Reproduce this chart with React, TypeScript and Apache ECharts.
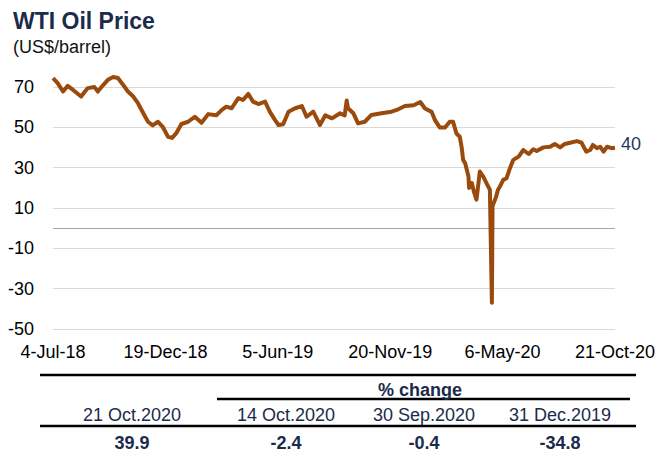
import React, { useEffect, useRef } from "react";
import * as echarts from "echarts";

// ---- Data ----
const dates: string[] = [
  "2018-07-04", "2018-07-11", "2018-07-19", "2018-07-26", "2018-08-03", "2018-08-15",
  "2018-08-25", "2018-09-04", "2018-09-09", "2018-09-17", "2018-09-24", "2018-10-02",
  "2018-10-09", "2018-10-17", "2018-10-24", "2018-11-01", "2018-11-08", "2018-11-16",
  "2018-11-23", "2018-11-30", "2018-12-08", "2018-12-15", "2018-12-23", "2018-12-29",
  "2019-01-04", "2019-01-12", "2019-01-22", "2019-02-01", "2019-02-11", "2019-02-21",
  "2019-03-05", "2019-03-13", "2019-03-20", "2019-03-28", "2019-04-07", "2019-04-14",
  "2019-04-22", "2019-04-29", "2019-05-07", "2019-05-17", "2019-05-24", "2019-06-01",
  "2019-06-06", "2019-06-13", "2019-06-21", "2019-07-01", "2019-07-11", "2019-07-18",
  "2019-07-28", "2019-08-07", "2019-08-15", "2019-08-25", "2019-09-06", "2019-09-13",
  "2019-09-16", "2019-09-18", "2019-09-26", "2019-10-03", "2019-10-13", "2019-10-23",
  "2019-11-07", "2019-11-22", "2019-12-02", "2019-12-12", "2019-12-25", "2020-01-04",
  "2020-01-11", "2020-01-21", "2020-01-26", "2020-02-02", "2020-02-10", "2020-02-17",
  "2020-02-22", "2020-02-27", "2020-03-03", "2020-03-06", "2020-03-08", "2020-03-11",
  "2020-03-16", "2020-03-17", "2020-03-21", "2020-03-24", "2020-03-28", "2020-04-02",
  "2020-04-07", "2020-04-13", "2020-04-17", "2020-04-20", "2020-04-21", "2020-04-26",
  "2020-04-29", "2020-05-02", "2020-05-07", "2020-05-12", "2020-05-17", "2020-05-22",
  "2020-05-30", "2020-06-06", "2020-06-14", "2020-06-21", "2020-06-26", "2020-07-06",
  "2020-07-16", "2020-07-23", "2020-07-31", "2020-08-07", "2020-08-15", "2020-08-25",
  "2020-09-01", "2020-09-08", "2020-09-14", "2020-09-18", "2020-09-24", "2020-09-29",
  "2020-10-04", "2020-10-09", "2020-10-16", "2020-10-21",
];

const prices: number[] = [
  74.5, 72.0, 67.8, 70.6, 68.6, 65.3,
  69.5, 70.0, 67.8, 71.0, 73.6, 75.0,
  74.5, 71.0, 67.8, 65.3, 62.0, 57.0,
  52.8, 51.0, 52.8, 50.3, 45.3, 44.8,
  47.0, 51.7, 52.8, 55.3, 52.3, 56.6,
  56.0, 58.6, 60.3, 59.5, 64.5, 63.6,
  66.6, 62.8, 61.6, 62.8, 57.8, 53.6,
  51.2, 51.6, 57.8, 59.5, 60.6, 55.3,
  57.8, 51.2, 56.0, 54.5, 57.0, 56.0,
  63.3, 59.5, 57.0, 52.0, 52.8, 56.2,
  57.0, 57.8, 59.0, 60.6, 61.0, 62.6,
  59.4, 57.7, 53.6, 50.0, 50.0, 52.8,
  52.8, 47.0, 45.4, 39.7, 33.9, 32.3,
  25.7, 20.0, 22.4, 18.3, 14.2, 28.1,
  25.7, 21.6, 19.1, -37.0, 11.0, 15.3,
  19.0, 20.7, 24.0, 24.8, 29.8, 33.9,
  35.5, 38.8, 36.8, 39.2, 38.3, 40.1,
  40.4, 41.8, 40.1, 41.8, 42.4, 43.2,
  42.4, 38.0, 38.8, 41.3, 39.7, 40.4,
  38.0, 40.4, 39.7, 39.9,
];

const xTickLabels: string[] = ["4-Jul-18", "19-Dec-18", "5-Jun-19", "20-Nov-19", "6-May-20", "21-Oct-20"];
const yTickValues: number[] = [-50, -30, -10, 10, 30, 50, 70];

const title = "WTI Oil Price";
const subtitle = "(US$/barrel)";
const changeHeader = "% change";
const tableDates: string[] = ["21 Oct.2020", "14 Oct.2020", "30 Sep.2020", "31 Dec.2019"];
const tableValues: number[] = [39.9, -2.4, -0.4, -34.8];

// ---- Helpers ----
const START = Date.UTC(2018, 6, 4);
const DAY = 86400000;
const dayOf = (s: string) => {
  const [y, m, d] = s.split("-").map(Number);
  return Math.round((Date.UTC(y, m - 1, d) - START) / DAY);
};
const TICK_STEP = 168;

const FONT = "'Liberation Sans', Arial, sans-serif";
const NAVY = "#1B2B4B";
const LINE = "#9A4A0C";

export default function App() {
  const ref = useRef<HTMLDivElement>(null);

  useEffect(() => {
    if (!ref.current) return;
    const chart = echarts.init(ref.current, undefined, { renderer: "svg" });

    const colX = [132, 286, 424, 560];
    const tableGraphics: any[] = [
      { type: "line", shape: { x1: 40, y1: 375, x2: 636, y2: 375 }, style: { stroke: "#000", lineWidth: 2.5 } },
      { type: "line", shape: { x1: 217, y1: 399, x2: 630, y2: 399 }, style: { stroke: "#000", lineWidth: 2.5 } },
      { type: "line", shape: { x1: 40, y1: 426, x2: 636, y2: 426 }, style: { stroke: "#000", lineWidth: 2.5 } },
      {
        type: "text", x: 420, y: 390,
        style: { text: changeHeader, font: `bold 18px ${FONT}`, fill: NAVY, textAlign: "center", textVerticalAlign: "middle" },
      },
      ...tableDates.map((t, i) => ({
        type: "text", x: colX[i], y: 415,
        style: { text: t, font: `18px ${FONT}`, fill: NAVY, textAlign: "center", textVerticalAlign: "middle" },
      })),
      ...tableValues.map((v, i) => ({
        type: "text", x: colX[i], y: 443,
        style: { text: v.toFixed(1), font: `bold 18px ${FONT}`, fill: NAVY, textAlign: "center", textVerticalAlign: "middle" },
      })),
      {
        type: "text", x: 13, y: 21,
        style: { text: title, font: `bold 23px ${FONT}`, fill: NAVY, textAlign: "left", textVerticalAlign: "middle" },
      },
      {
        type: "text", x: 13, y: 47,
        style: { text: subtitle, font: `18px ${FONT}`, fill: "#111", textAlign: "left", textVerticalAlign: "middle" },
      },
    ];

    chart.setOption({
      animation: false,
      backgroundColor: "#fff",
      textStyle: { fontFamily: FONT },
      grid: { left: 53, right: 43, top: 75, bottom: 124, containLabel: false },
      xAxis: {
        type: "value",
        min: 0,
        max: TICK_STEP * (xTickLabels.length - 1),
        interval: TICK_STEP,
        axisLine: { show: false },
        axisTick: { show: false },
        splitLine: { show: false },
        axisLabel: {
          fontSize: 18,
          color: "#000",
          margin: 14,
          formatter: (v: number) => xTickLabels[Math.round(v / TICK_STEP)] ?? "",
        },
      },
      yAxis: {
        type: "value",
        min: yTickValues[0],
        max: 76,
        interval: 20,
        axisLine: { show: false },
        axisTick: { show: false },
        axisLabel: {
          fontSize: 18,
          color: "#000",
          margin: 19,
          showMaxLabel: false,
          formatter: (v: number) => (yTickValues.includes(v) ? String(v) : ""),
        },
        splitLine: { show: true, showMaxLine: false, lineStyle: { color: "#D9D9D9", width: 1 } },
      },
      series: [
        {
          type: "line",
          data: dates.map((d, i) => [dayOf(d), prices[i]]),
          showSymbol: false,
          symbol: "none",
          lineStyle: { color: LINE, width: 4, join: "round" },
          itemStyle: { color: LINE },
          endLabel: {
            show: true,
            formatter: (p: any) => String(Math.round(p.value[1])),
            color: "#1F3864",
            fontSize: 18,
            distance: 6,
            offset: [0, -4],
          },
          markLine: {
            silent: true,
            symbol: "none",
            label: { show: false },
            lineStyle: { color: "#A6A6A6", width: 1.2, type: "solid" },
            data: [{ yAxis: 0 }],
            z: 1,
          },
          z: 3,
        },
      ],
      graphic: tableGraphics,
    });

    return () => chart.dispose();
  }, []);

  return (
    <div
      ref={ref}
      style={{ position: "fixed", left: 0, top: 0, width: 658, height: 453, background: "#fff" }}
    />
  );
}
